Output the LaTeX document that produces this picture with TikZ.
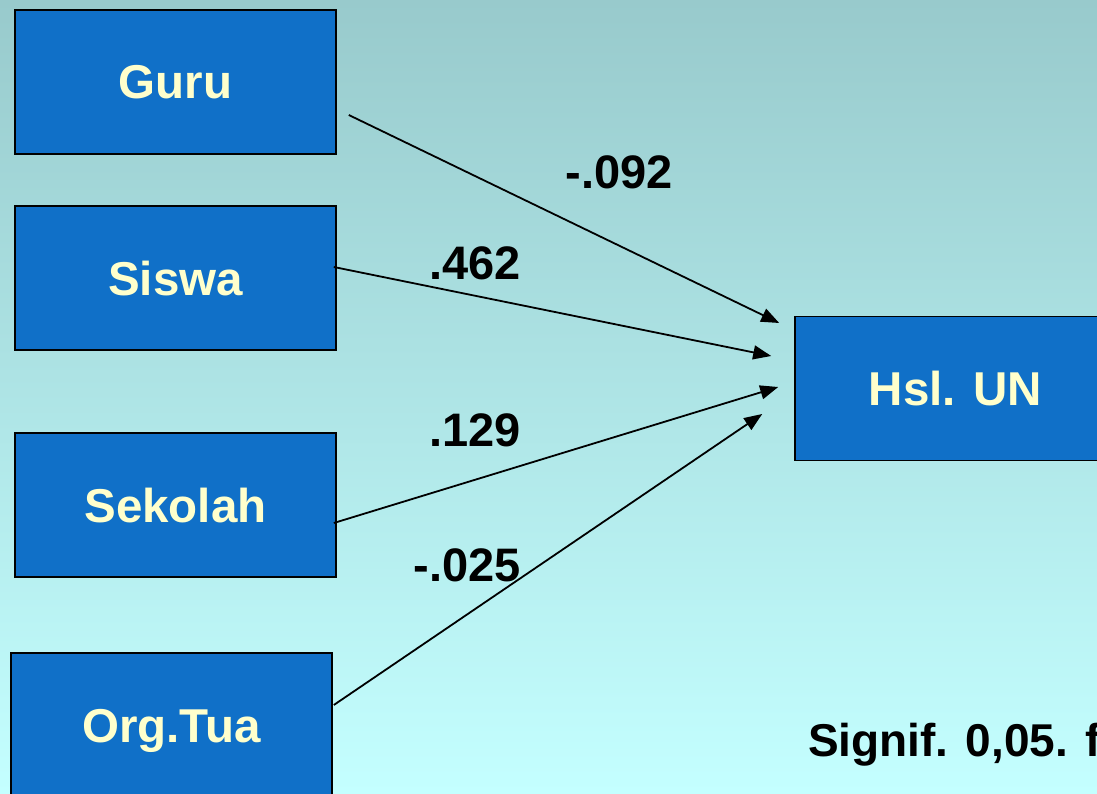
\documentclass[tikz,border=0pt]{standalone}
\usepackage{fontspec}
\setmainfont{Liberation Sans}
\usetikzlibrary{arrows.meta}
\definecolor{bgtop}{RGB}{152,202,204}
\definecolor{bgbottom}{RGB}{196,255,255}
\definecolor{boxblue}{RGB}{16,112,200}
\definecolor{boxtext}{RGB}{255,255,204}
\tikzset{
  var/.style={draw=black, line width=1.6pt, fill=boxblue, minimum width=321pt,
    minimum height=144pt, inner sep=0pt, text=boxtext,
    text height=34pt, text depth=0pt,
    font=\fontsize{47.5}{57}\selectfont\bfseries},
  coef/.style={text=black, inner sep=0pt, font=\fontsize{47}{56}\selectfont\bfseries},
  note/.style={text=black, inner sep=0pt, font=\fontsize{46}{55}\selectfont\bfseries},
  path/.style={draw=black, line width=1.8pt, -{Triangle[length=18pt,width=14pt]}}
}
\begin{document}
\begin{tikzpicture}[x=1pt,y=-1pt]
  \useasboundingbox (0,0) rectangle (1097,794);
  \clip (0,0) rectangle (1097,794);
  \shade[top color=bgtop, bottom color=bgbottom] (0,0) rectangle (1097,794);

  % predictor boxes
  \node[var] (guru) at (175.5,82) {Guru};
  \node[var] (siswa) at (175.5,278) {Siswa};
  \node[var] (sekolah) at (175.5,505) {Sekolah};
  \node[var] (ortu) at (171.5,725) {Org.Tua};
  % outcome box
  \node[var] (hsl) at (955.5,388.5) {Hsl. UN};

  % path arrows
  \draw[path] ([xshift=12pt,yshift=-33pt]guru.east) -- ([xshift=-15pt,yshift=65.5pt]hsl.west);
  \draw[path] ([xshift=-3pt,yshift=11pt]siswa.east) -- ([xshift=-23pt,yshift=32.5pt]hsl.west);
  \draw[path] ([xshift=-3pt,yshift=-18pt]sekolah.east) -- ([xshift=-16pt,yshift=1.5pt]hsl.west);
  \draw[path] ([xshift=1pt,yshift=20pt]ortu.east) -- ([xshift=-32pt,yshift=-25.5pt]hsl.west);

  % path coefficients
  \node[coef] (cguru) at (619,172) {-.092};
  \node[coef] (csiswa) at (475,263) {.462};
  \node[coef] (csekolah) at (475,430) {.129};
  \node[coef] (cortu) at (467,565) {-.025};

  % significance note, running off the right edge
  \node[note, anchor=west] (signote) at (808,745) {Signif. 0,05. f};
\end{tikzpicture}
\end{document}
